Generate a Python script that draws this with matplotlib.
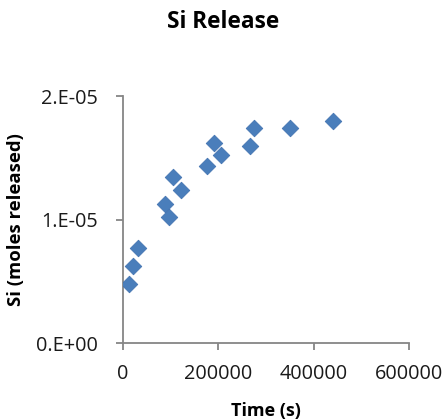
import matplotlib
matplotlib.use("Agg")
import matplotlib.pyplot as plt
from matplotlib.ticker import FuncFormatter

# Si release data
time_s = [11900, 21000, 31500, 87600, 96700, 105000, 120500,
          175800, 191200, 205300, 266200, 274600, 350300, 440000]
si_moles = [0.478e-5, 0.626e-5, 0.772e-5, 1.129e-5, 1.022e-5, 1.344e-5, 1.237e-5,
            1.435e-5, 1.618e-5, 1.524e-5, 1.600e-5, 1.742e-5, 1.745e-5, 1.800e-5]

x_ticks = [0, 200000, 400000, 600000]
y_ticks = [0, 1e-5, 2e-5]

plt.rcParams['font.family'] = ['Open Sans', 'DejaVu Sans']

fig = plt.figure(figsize=(4.46, 4.20), dpi=100)
ax = fig.add_axes([0.276, 0.183, 0.641, 0.588])

ax.scatter(time_s, si_moles, marker='D', s=72, color='#4a7ebb',
           edgecolors='#3d6fae', linewidths=0.5, zorder=3)

ax.set_xlim(0, 600000)
ax.set_ylim(0, 2e-5)
ax.set_xticks(x_ticks)
ax.set_yticks(y_ticks)
ax.xaxis.set_major_formatter(FuncFormatter(lambda v, p: f"{int(v)}"))
ax.yaxis.set_major_formatter(
    FuncFormatter(lambda v, p: f"{v:.0E}".replace("E", ".E")))

for s in ['top', 'right']:
    ax.spines[s].set_visible(False)
for s in ['left', 'bottom']:
    ax.spines[s].set_color('#868686')
    ax.spines[s].set_linewidth(1.3)

ax.tick_params(axis='both', direction='out', length=5, width=1.3,
               color='#868686', labelsize=14.3, labelcolor='#1a1a1a')
ax.tick_params(axis='y', pad=13)
ax.tick_params(axis='x', pad=10)

ax.set_xlabel("Time (s)", fontsize=13, fontweight='bold', labelpad=13)
ax.set_ylabel("Si (moles released)", fontsize=13.3, fontweight='bold', labelpad=8)
fig.text(0.5, 0.948, "Si Release", ha='center', va='center',
         fontsize=16.3, fontweight='bold')

fig.savefig("out.png", dpi=100)
